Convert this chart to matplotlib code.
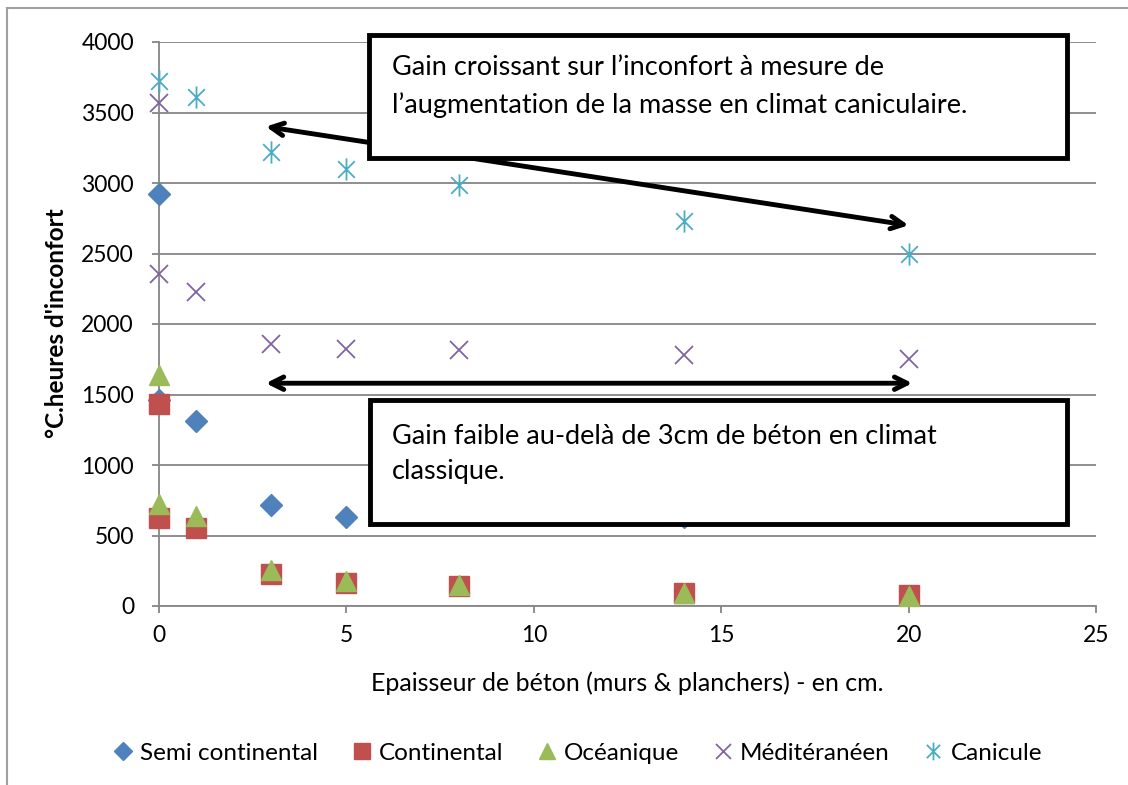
import matplotlib
matplotlib.use("Agg")
import matplotlib.pyplot as plt
from matplotlib.path import Path
from matplotlib.patches import Rectangle
from matplotlib.lines import Line2D

plt.rcParams['font.family'] = ['Lato', 'DejaVu Sans']

# données (épaisseur en cm, °C.heures d'inconfort)
semi_x = [0, 0, 1, 3, 5, 8, 14, 20]
semi_y = [2920, 1460, 1315, 715, 630, 665, 630, 665]
cont_x = [0, 0, 1, 3, 5, 8, 14, 20]
cont_y = [1435, 625, 555, 225, 160, 140, 95, 75]
ocea_x = [0, 0, 1, 3, 5, 8, 14, 20]
ocea_y = [1640, 720, 635, 255, 180, 150, 95, 70]
medi_x = [0, 0, 1, 3, 5, 8, 14, 20]
medi_y = [3565, 2355, 2225, 1855, 1820, 1815, 1780, 1750]
cani_x = [0, 1, 3, 5, 8, 14, 20]
cani_y = [3725, 3610, 3220, 3100, 2985, 2730, 2500]

labels = ["Semi continental", "Continental", "Océanique", "Méditéranéen", "Canicule"]
colors = ["#4F81BD", "#C0504D", "#9BBB59", "#8064A2", "#4BACC6"]

# flèches (x, y en unités de données)
arrow1 = ((2.85, 3400), (20.0, 2700))
arrow2 = ((2.85, 1580), (20.1, 1580))

# astérisque façon excel
ast = Path([(0, -1), (0, 1), (-0.75, -0.75), (0.75, 0.75), (-0.75, 0.75), (0.75, -0.75)],
           [Path.MOVETO, Path.LINETO] * 3)

fig = plt.figure(figsize=(11.28, 7.85), dpi=100)
ax = fig.add_axes([159 / 1128, 1 - 606 / 785, 937 / 1128, 564 / 785])

grid_c = "#868686"
ax.set_xlim(0, 25)
ax.set_ylim(0, 4000)
ax.set_xticks(range(0, 26, 5))
ax.set_yticks(range(0, 4001, 500))
ax.yaxis.grid(True, color=grid_c, lw=1.3)
ax.set_axisbelow(True)
for s in ['top', 'right']:
    ax.spines[s].set_visible(False)
for s in ['left', 'bottom']:
    ax.spines[s].set_color(grid_c)
    ax.spines[s].set_linewidth(1.3)
ax.tick_params(axis='both', colors=grid_c, labelcolor='black', labelsize=16.5, length=5, width=1.3)
ax.tick_params(axis='y', pad=13)
ax.tick_params(axis='x', pad=9)

mk = dict(ls='none', clip_on=False)
ax.plot(semi_x, semi_y, marker='D', ms=11.5, color=colors[0], label=labels[0], zorder=3, **mk)
ax.plot(cont_x, cont_y, marker='s', ms=14, color=colors[1], label=labels[1], zorder=3, **mk)
ax.plot(ocea_x, ocea_y, marker='^', ms=14.5, color=colors[2], label=labels[2], zorder=4, **mk)
ax.plot(medi_x, medi_y, marker='x', ms=13.5, mew=1.3, color=colors[3], label=labels[3], zorder=3, **mk)
ax.plot(cani_x, cani_y, marker=ast, ms=16, mew=1.3, mfc='none', mec=colors[4],
        color=colors[4], label=labels[4], zorder=3, **mk)

for (p0, p1) in (arrow1, arrow2):
    ax.annotate("", xy=p1, xytext=p0,
                arrowprops=dict(arrowstyle="<->,head_length=0.9,head_width=0.45",
                                lw=3.5, color='black', shrinkA=0, shrinkB=0), zorder=5)

# encadrés de texte
box_kw = dict(transform=ax.transAxes, facecolor='white', edgecolor='black', lw=3.5,
              clip_on=False, zorder=6)
ax.add_patch(Rectangle((0.224, 0.794), 0.745, 0.218, **box_kw))
ax.add_patch(Rectangle((0.225, 0.146), 0.744, 0.219, **box_kw))

txt_kw = dict(transform=ax.transAxes, fontsize=19.5, ha='left', va='center', zorder=7)
ax.text(0.249, 0.954, "Gain croissant sur l\u2019inconfort à mesure de", **txt_kw)
ax.text(0.249, 0.889, "l\u2019augmentation de la masse en climat caniculaire.", **txt_kw)
ax.text(0.249, 0.300, "Gain faible au-delà de 3cm de béton en climat", **txt_kw)
ax.text(0.249, 0.238, "classique.", **txt_kw)

ax.set_xlabel("Epaisseur de béton (murs & planchers) - en cm.", fontsize=18, labelpad=18)
ax.set_ylabel("°C.heures d'inconfort", fontsize=17.5, fontweight='bold')
ax.yaxis.set_label_coords(-(159 - 68) / 937, (606 - 323) / 564)

fig.legend(loc='center', bbox_to_anchor=(0.512, 1 - 753 / 785), ncol=5, frameon=False,
           fontsize=17.5, handletextpad=0.3, columnspacing=1.4, handlelength=0.8,
           markerscale=0.8)

# cadre extérieur du graphique
fig.add_artist(Line2D([7 / 1128, 7 / 1128], [0, 1 - 8 / 785], color='#A0A0A0', lw=1.5))
fig.add_artist(Line2D([7 / 1128, 1], [1 - 8 / 785, 1 - 8 / 785], color='#A0A0A0', lw=1.5))

fig.savefig("out.png", dpi=100, facecolor='white')
